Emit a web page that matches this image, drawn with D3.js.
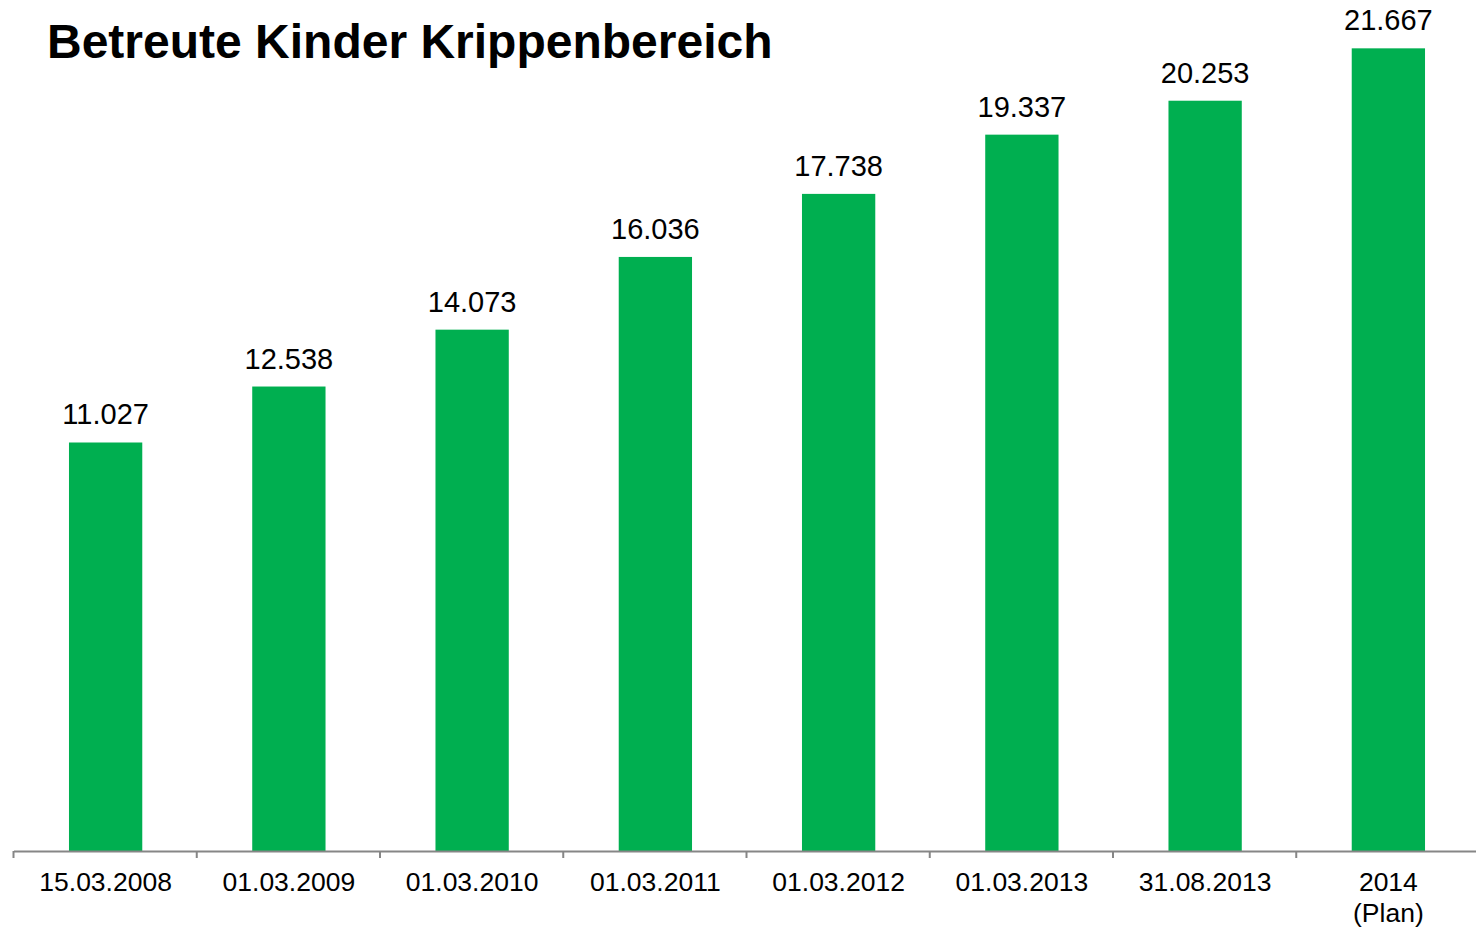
<!DOCTYPE html>
<html lang="de">
<head>
    <meta charset="UTF-8">
    <title>Betreute Kinder Krippenbereich</title>
    <script src="https://d3js.org/d3.v7.min.js"></script>
    <style>
        body { margin: 0; background: #fff; }
        svg { display: block; font-family: "Liberation Sans", Arial, sans-serif; }
    </style>
</head>
<body>
    <svg id="chart"></svg>
    <script>
        // Stichtage und Anzahl betreuter Kinder
        var categories = ["15.03.2008", "01.03.2009", "01.03.2010", "01.03.2011",
                          "01.03.2012", "01.03.2013", "31.08.2013", "2014\n(Plan)"];
        var values = [11027, 12538, 14073, 16036, 17738, 19337, 20253, 21667];

        var width = 1476, height = 927;
        var baseY = 851;

        var svg = d3.select("#chart")
            .attr("width", width)
            .attr("height", height);

        var x = d3.scaleBand()
            .domain(categories)
            .range([14, 1480])
            .paddingInner(0.6)
            .paddingOuter(0.3);

        var y = d3.scaleLinear()
            .domain([0, 22000])
            .range([baseY, 36]);

        var fmt = d3.formatLocale({ decimal: ",", thousands: ".", grouping: [3], currency: ["", "€"] }).format(",d");

        // Titel
        svg.append("text")
            .attr("x", 47)
            .attr("y", 58)
            .attr("font-size", 48)
            .attr("font-weight", "bold")
            .attr("fill", "#000")
            .text("Betreute Kinder Krippenbereich");

        // Balken
        svg.selectAll("rect.bar")
            .data(values)
            .enter().append("rect")
            .attr("class", "bar")
            .attr("x", (d, i) => x(categories[i]))
            .attr("y", d => y(d))
            .attr("width", x.bandwidth())
            .attr("height", d => baseY - y(d))
            .attr("fill", "#00AF50");

        // Werte
        svg.selectAll("text.val")
            .data(values)
            .enter().append("text")
            .attr("class", "val")
            .attr("x", (d, i) => x(categories[i]) + x.bandwidth() / 2)
            .attr("y", d => y(d) - 18)
            .attr("text-anchor", "middle")
            .attr("font-size", 29)
            .attr("fill", "#000")
            .text(d => fmt(d));

        // x-Achse mit Tickmarken zwischen den Kategorien
        var axis = svg.append("g");
        axis.append("line")
            .attr("x1", 14).attr("x2", width)
            .attr("y1", baseY + 0.5).attr("y2", baseY + 0.5)
            .attr("stroke", "#868686")
            .attr("stroke-width", 2);

        axis.selectAll("line.tick")
            .data(categories)
            .enter().append("line")
            .attr("class", "tick")
            .attr("x1", d => x(d) - x.bandwidth() * 0.75 - 0.5)
            .attr("x2", d => x(d) - x.bandwidth() * 0.75 - 0.5)
            .attr("y1", baseY)
            .attr("y2", baseY + 7)
            .attr("stroke", "#868686")
            .attr("stroke-width", 2);

        var labels = axis.selectAll("text.cat")
            .data(categories)
            .enter().append("text")
            .attr("class", "cat")
            .attr("text-anchor", "middle")
            .attr("font-size", 26.5)
            .attr("fill", "#000");

        labels.each(function (d) {
            var t = d3.select(this);
            d.split("\n").forEach(function (line, k) {
                t.append("tspan")
                    .attr("x", x(d) + x.bandwidth() / 2)
                    .attr("y", 891 + k * 31)
                    .text(line);
            });
        });
    </script>
</body>
</html>
